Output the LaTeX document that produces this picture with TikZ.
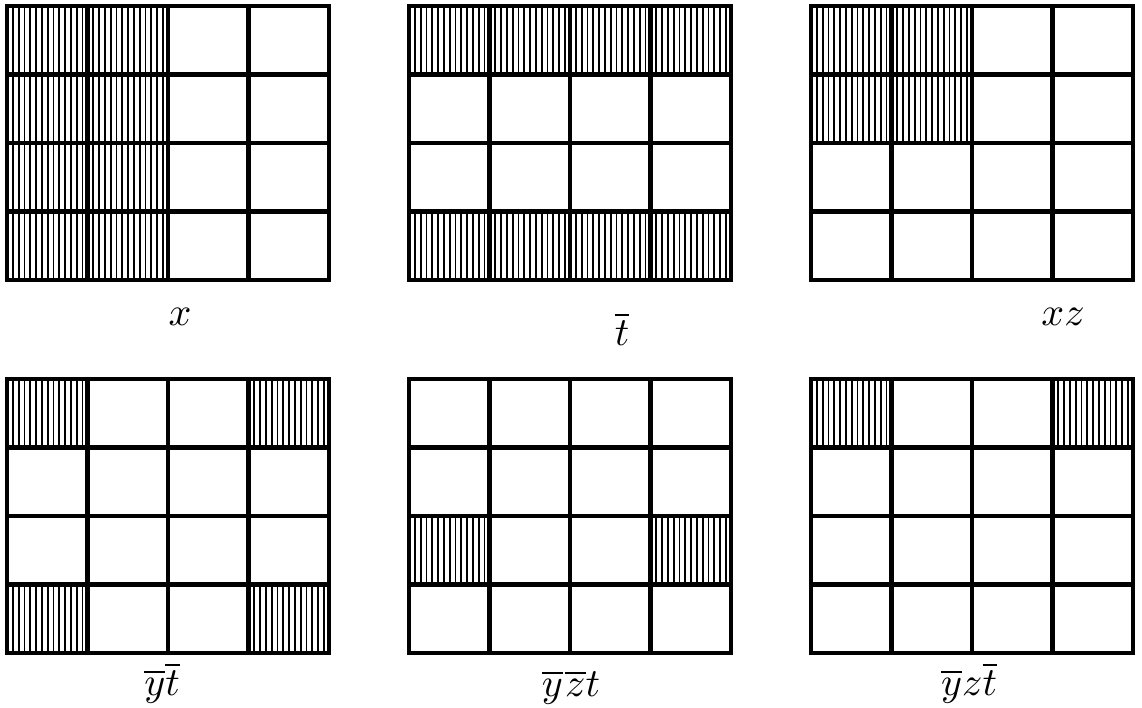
\documentclass[tikz,border=0pt]{standalone}
\usepackage{amsmath,amssymb}
\usepackage{tikz}

\begin{document}
\begin{tikzpicture}[
    x=0.25pt, y=-0.25pt,
    gridline/.style={line width=1.1pt, line join=miter},
    hatchline/.style={line width=0.45pt},
    maplabel/.style={font=\normalsize, inner sep=0pt, anchor=base}
]
    \useasboundingbox (0,0) rectangle (1142,707);

    % hatched cells (column/row), then the 4x4 grid of each map
    \foreach \mx/\my/\cells in {
        7/6/{1/1,1/2,1/3,1/4,2/1,2/2,2/3,2/4},
        409/6/{1/1,2/1,3/1,4/1,1/4,2/4,3/4,4/4},
        811/6/{1/1,2/1,1/2,2/2},
        7/379/{1/1,4/1,1/4,4/4},
        409/379/{1/3,4/3},
        811/379/{1/1,4/1}} {
        \foreach \c/\r in \cells {
            \foreach \h in {1,...,13}
                \draw[hatchline] ({\mx+(\c-1)*80.5+\h*5.8},{\my+(\r-1)*68.5}) -- ++(0,68.5);
        }
        \foreach \k in {1,2,3} {
            \draw[gridline] ({\mx+\k*80.5},\my) -- ++(0,274);
            \draw[gridline] (\mx,{\my+\k*68.5}) -- ++(322,0);
        }
        \draw[gridline] (\mx,\my) rectangle ++(322,274);
    }

    \node[maplabel] (lab-x) at (180,325) {$x$};
    \node[maplabel] (lab-tbar) at (622,345) {$\overline{t}$};
    \node[maplabel] (lab-xz) at (1063,325) {$xz$};
    \node[maplabel] (lab-ytbar) at (162,695) {$\overline{y}\overline{t}$};
    \node[maplabel] (lab-yzbart) at (571,696) {$\overline{y}\mkern1mu\overline{z}t$};
    \node[maplabel] (lab-yztbar) at (969,695) {$\overline{y}z\overline{t}$};
\end{tikzpicture}
\end{document}
